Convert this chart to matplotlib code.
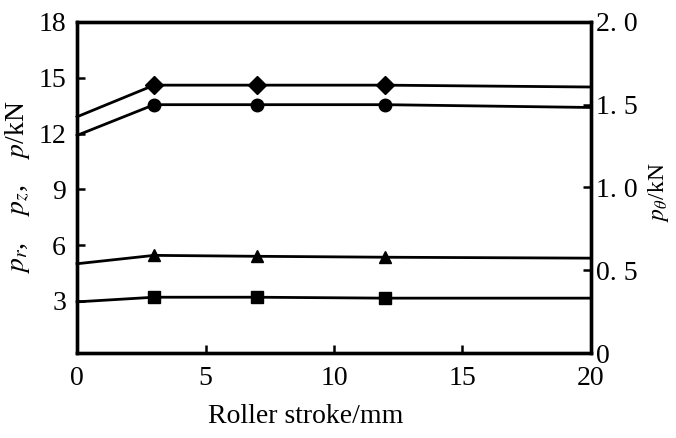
import matplotlib
matplotlib.use("Agg")
import matplotlib.pyplot as plt

plt.rcParams['font.family'] = ['Liberation Serif', 'DejaVu Serif']
plt.rcParams['mathtext.fontset'] = 'stix'

# roller stroke (mm); markers only on the inner points
stroke = [0, 3, 7, 12, 20]
p_diamond = [12.9, 14.6, 14.6, 14.6, 14.5]
p_circle = [11.9, 13.55, 13.55, 13.55, 13.4]
p_triangle = [5.0, 5.45, 5.4, 5.35, 5.3]
p_square = [2.95, 3.2, 3.2, 3.15, 3.15]

left_ticks = [3, 6, 9, 12, 15, 18]
right_ticks = [0, 0.5, 1.0, 1.5, 2.0]
right_labels = ['0', '0. 5', '1. 0', '1. 5', '2. 0']
x_ticks = [0, 5, 10, 15, 20]

fig = plt.figure(figsize=(6.76, 4.38), dpi=100)
ax = fig.add_axes([0.114, 0.194, 0.76, 0.756])

series = [(p_diamond, 'D', 9), (p_circle, 'o', 9),
          (p_triangle, '^', 8.5), (p_square, 's', 8)]
for vals, mk, ms in series:
    ax.plot(stroke, vals, color='black', lw=2, marker=mk, ms=ms,
            markevery=[1, 2, 3], clip_on=False)

ax.set_xlim(0, 20)
ax.set_ylim(0.2, 18)
ax.set_xticks(x_ticks)
ax.set_yticks(left_ticks)
ax.tick_params(direction='in', length=6, width=1.8, labelsize=20, pad=8)
ax.tick_params(axis='x', pad=9)
for s in ax.spines.values():
    s.set_linewidth(2.4)

ax.set_xlabel('Roller stroke/mm', fontsize=20)
ax.xaxis.set_label_coords(0.445, -0.155)
ax.set_ylabel('$p_r$,    $p_z$,    $p$/kN', fontsize=20)
ax.yaxis.set_label_coords(-0.088, 0.5)

ax2 = ax.twinx()
ax2.set_ylim(0, 2.0)
ax2.set_yticks(right_ticks)
ax2.set_yticklabels(right_labels)
ax2.tick_params(axis='y', direction='in', length=6, width=1.8,
                labelsize=20, pad=4)
ax2.set_ylabel(r'$p_\theta$/kN', fontsize=17)
ax2.yaxis.set_label_coords(1.107, 0.486)
for s in ax2.spines.values():
    s.set_linewidth(2.4)

fig.savefig('out.png', dpi=100)
